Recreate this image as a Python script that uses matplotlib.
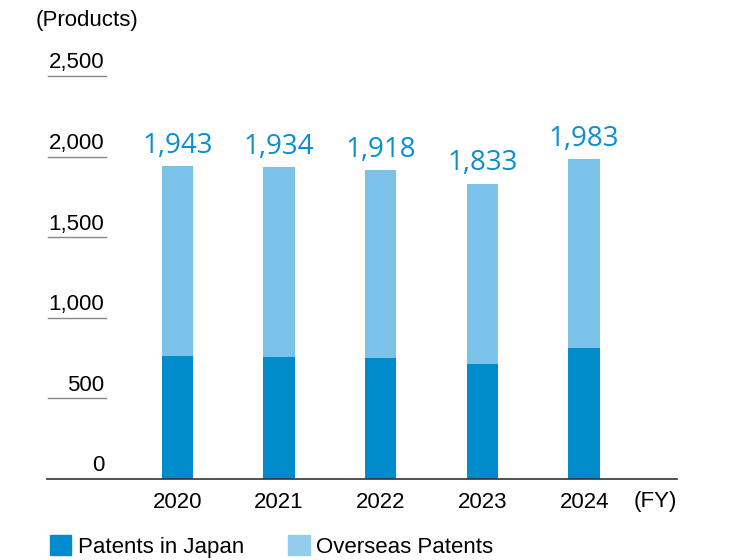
import matplotlib
matplotlib.use("Agg")
import matplotlib.pyplot as plt
import matplotlib.transforms as mtransforms
from matplotlib.patches import Patch

years = ["2020", "2021", "2022", "2023", "2024"]
japan = [763, 757, 749, 713, 810]
totals = [1943, 1934, 1918, 1833, 1983]
overseas = [t - j for t, j in zip(totals, japan)]
yticks = [0, 500, 1000, 1500, 2000, 2500]
ytick_labels = ["0", "500", "1,000", "1,500", "2,000", "2,500"]

c_japan = "#008bcb"
c_over = "#7bc2e8"
c_label = "#0a8fd0"

plt.rcParams["font.family"] = ["Liberation Sans", "DejaVu Sans"]

fig = plt.figure(figsize=(7.4, 5.6), dpi=100)
ax = fig.add_axes([47 / 740, 81 / 560, 630 / 740, 403 / 560])

x = list(range(len(years)))
w = 0.308
ax.bar(x, japan, w, color=c_japan, label="Patents in Japan")
ax.bar(x, overseas, w, bottom=japan, color=c_over, label="Overseas Patents")

# totals above bars
for xi, t in zip(x, totals):
    ax.annotate(f"{t:,}", xy=(xi, t), xytext=(0, 9.5), textcoords="offset points",
                ha="center", va="baseline", fontsize=20, color=c_label,
                family=["Open Sans", "DejaVu Sans"])

ax.set_xlim(-1.281, 4.913)
ax.set_ylim(0, 2500)

for s in ["top", "right", "left"]:
    ax.spines[s].set_visible(False)
ax.spines["bottom"].set_color("#333333")
ax.spines["bottom"].set_linewidth(1.2)

ax.set_yticks([])
ax.set_xticks(x)
ax.set_xticklabels(years, fontsize=16)
ax.tick_params(axis="x", length=0, pad=9)

# y labels sitting on short underline marks
trans = mtransforms.blended_transform_factory(ax.transAxes, ax.transData)
for v, lab in zip(yticks, ytick_labels):
    if v > 0:
        ax.plot([0.0016, 0.094], [v, v], transform=trans, color="#888888",
                lw=1.0, clip_on=False)
    ax.annotate(lab, xy=(0.0905, v), xycoords=trans, xytext=(0, 5.5),
                textcoords="offset points", ha="right", va="baseline", fontsize=16)

ax.annotate("(FY)", xy=(1, 0), xycoords="axes fraction", xytext=(0, -9),
            textcoords="offset points", ha="right", va="top", fontsize=16)

fig.text(36 / 740, 1 - 26 / 560, "(Products)", ha="left", va="baseline", fontsize=16)

handles = [Patch(color=c_japan), Patch(color="#93cdee")]
fig.legend(handles, ["Patents in Japan", "Overseas Patents"], loc="lower left",
           bbox_to_anchor=(50 / 740, 2 / 560), ncol=2, frameon=False, fontsize=16,
           handlelength=0.95, handleheight=1.0, handletextpad=0.3,
           columnspacing=2.0, borderpad=0, borderaxespad=0)

fig.savefig("out.png", dpi=100)
